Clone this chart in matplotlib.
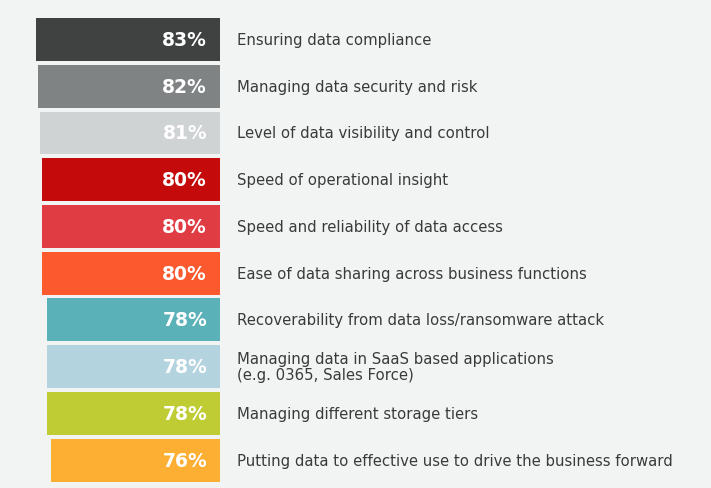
import matplotlib
matplotlib.use("Agg")
import matplotlib.pyplot as plt

categories = [
    "Ensuring data compliance",
    "Managing data security and risk",
    "Level of data visibility and control",
    "Speed of operational insight",
    "Speed and reliability of data access",
    "Ease of data sharing across business functions",
    "Recoverability from data loss/ransomware attack",
    "Managing data in SaaS based applications\n(e.g. 0365, Sales Force)",
    "Managing different storage tiers",
    "Putting data to effective use to drive the business forward",
]
values = [83, 82, 81, 80, 80, 80, 78, 78, 78, 76]
value_labels = ["83%", "82%", "81%", "80%", "80%", "80%", "78%", "78%", "78%", "76%"]
colors = ["#404141", "#7f8384", "#d0d3d4", "#c40a0a", "#e03c44",
          "#fc5a2e", "#5ab1b8", "#b3d3df", "#bfcc33", "#fdaf34"]

W, H = 711, 489
bg = "#f2f3f3"
fig = plt.figure(figsize=(W / 100, H / 100), dpi=100, facecolor=bg)

ax_right = 220
scale = 2.22  # px per percent
ax_bottom = 4.6
ax_height = 467.2
ax = fig.add_axes([0, ax_bottom / H, ax_right / W, ax_height / H])
ax.set_facecolor(bg)
ax.set_xlim(ax_right / scale, 0)
ax.set_ylim(len(values) - 0.5, -0.5)
ax.axis("off")

ys = list(range(len(values)))
ax.barh(ys, values, height=0.92, color=colors, left=0)

for y, lab in zip(ys, value_labels):
    ax.annotate(lab, xy=(0, y), xytext=(-13, 0), textcoords="offset pixels",
                ha="right", va="center", color="white", fontsize=13.5,
                fontweight="bold", annotation_clip=False)

for y, cat in zip(ys, categories):
    ax.annotate(cat, xy=(0, y), xytext=(17, 0), textcoords="offset pixels",
                ha="left", va="center", color="#3a3a3a", fontsize=10.75,
                linespacing=1.15, annotation_clip=False)

fig.savefig("out.png", dpi=100, facecolor=bg)
